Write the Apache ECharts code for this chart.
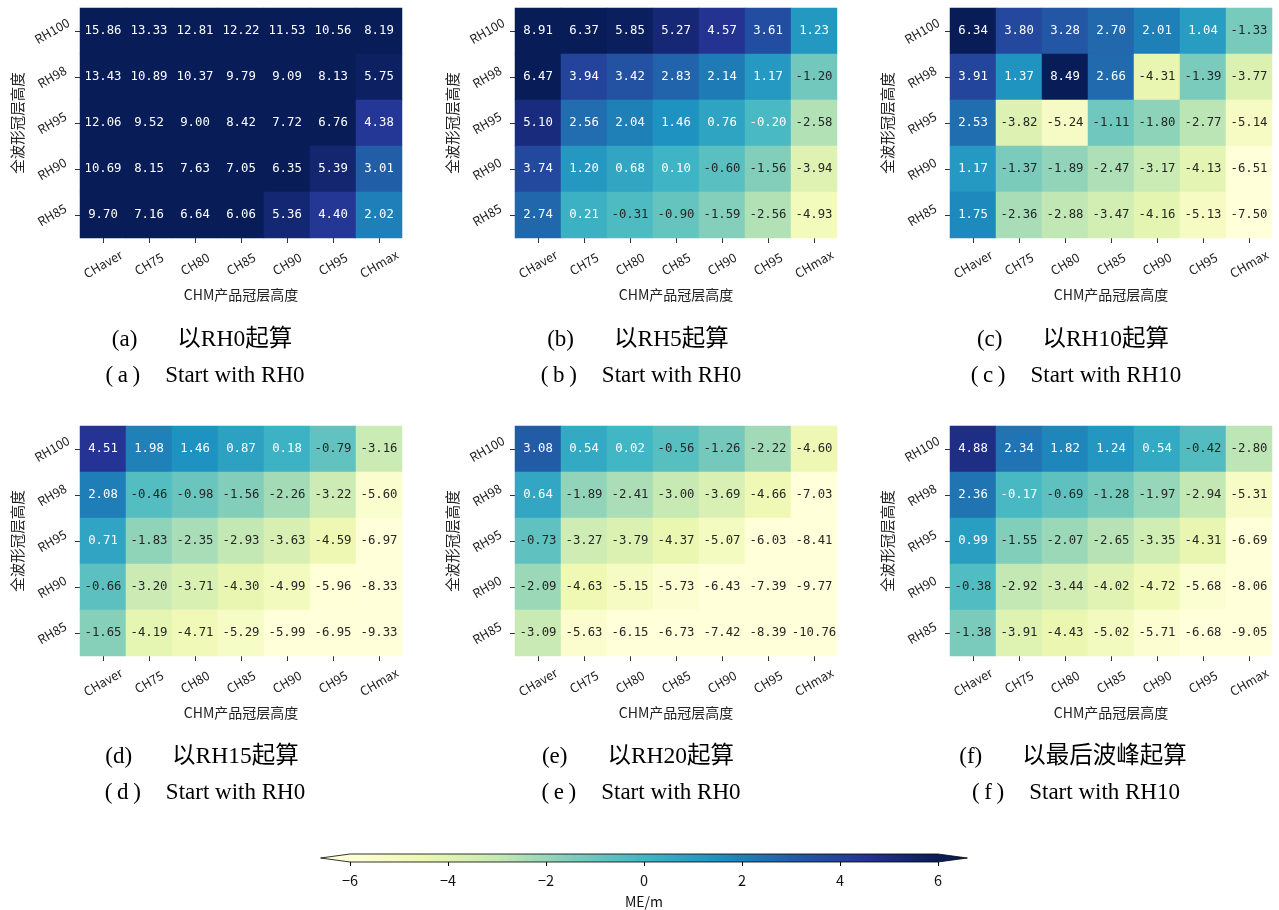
<!DOCTYPE html>
<html>
<head>
<meta charset="utf-8">
<script src="https://cdn.jsdelivr.net/npm/echarts@6/dist/echarts.min.js"></script>
<style>
  html, body { margin: 0; padding: 0; background: #fff; }
  #chart { width: 1279px; height: 910px; }
</style>
</head>
<body>
<div id="chart"></div>
<script>
// Canopy-height product levels (columns) and waveform RH levels (rows, top to bottom)
const chmLevels = ['CHaver', 'CH75', 'CH80', 'CH85', 'CH90', 'CH95', 'CHmax'];
const rhLevels = ['RH100', 'RH98', 'RH95', 'RH90', 'RH85'];

// Mean error (m) per start point; one row per RH level
const meStartRH0 = [
  [15.86, 13.33, 12.81, 12.22, 11.53, 10.56, 8.19],
  [13.43, 10.89, 10.37, 9.79, 9.09, 8.13, 5.75],
  [12.06, 9.52, 9.00, 8.42, 7.72, 6.76, 4.38],
  [10.69, 8.15, 7.63, 7.05, 6.35, 5.39, 3.01],
  [9.70, 7.16, 6.64, 6.06, 5.36, 4.40, 2.02]
];
const meStartRH5 = [
  [8.91, 6.37, 5.85, 5.27, 4.57, 3.61, 1.23],
  [6.47, 3.94, 3.42, 2.83, 2.14, 1.17, -1.20],
  [5.10, 2.56, 2.04, 1.46, 0.76, -0.20, -2.58],
  [3.74, 1.20, 0.68, 0.10, -0.60, -1.56, -3.94],
  [2.74, 0.21, -0.31, -0.90, -1.59, -2.56, -4.93]
];
const meStartRH10 = [
  [6.34, 3.80, 3.28, 2.70, 2.01, 1.04, -1.33],
  [3.91, 1.37, 8.49, 2.66, -4.31, -1.39, -3.77],
  [2.53, -3.82, -5.24, -1.11, -1.80, -2.77, -5.14],
  [1.17, -1.37, -1.89, -2.47, -3.17, -4.13, -6.51],
  [1.75, -2.36, -2.88, -3.47, -4.16, -5.13, -7.50]
];
const meStartRH15 = [
  [4.51, 1.98, 1.46, 0.87, 0.18, -0.79, -3.16],
  [2.08, -0.46, -0.98, -1.56, -2.26, -3.22, -5.60],
  [0.71, -1.83, -2.35, -2.93, -3.63, -4.59, -6.97],
  [-0.66, -3.20, -3.71, -4.30, -4.99, -5.96, -8.33],
  [-1.65, -4.19, -4.71, -5.29, -5.99, -6.95, -9.33]
];
const meStartRH20 = [
  [3.08, 0.54, 0.02, -0.56, -1.26, -2.22, -4.60],
  [0.64, -1.89, -2.41, -3.00, -3.69, -4.66, -7.03],
  [-0.73, -3.27, -3.79, -4.37, -5.07, -6.03, -8.41],
  [-2.09, -4.63, -5.15, -5.73, -6.43, -7.39, -9.77],
  [-3.09, -5.63, -6.15, -6.73, -7.42, -8.39, -10.76]
];
const meStartLastPeak = [
  [4.88, 2.34, 1.82, 1.24, 0.54, -0.42, -2.80],
  [2.36, -0.17, -0.69, -1.28, -1.97, -2.94, -5.31],
  [0.99, -1.55, -2.07, -2.65, -3.35, -4.31, -6.69],
  [-0.38, -2.92, -3.44, -4.02, -4.72, -5.68, -8.06],
  [-1.38, -3.91, -4.43, -5.02, -5.71, -6.68, -9.05]
];

const panelTags = ['a', 'b', 'c', 'd', 'e', 'f'];
const captionsCN = ['以RH0起算', '以RH5起算', '以RH10起算', '以RH15起算', '以RH20起算', '以最后波峰起算'];
const captionsEN = ['Start with RH0', 'Start with RH0', 'Start with RH10',
                    'Start with RH0', 'Start with RH0', 'Start with RH10'];

// Colour scale
const colorTicks = [-6, -4, -2, 0, 2, 4, 6];
const meMin = -6, meMax = 6;
const ylgnbu = ['#ffffd9', '#edf8b1', '#c7e9b4', '#7fcdbb', '#41b6c4',
                '#1d91c0', '#225ea8', '#253494', '#081d58'];

const panels = [meStartRH0, meStartRH5, meStartRH10, meStartRH15, meStartRH20, meStartLastPeak];

// ---- layout ----
const colLeft = [80, 515, 950];
const rowTop = [8, 426];
const cellW = 322, cellH = 230;
const capCenter = [205, 641, 1076];
const capY = [[340, 376], [757, 793]];

// Interpolated colour for a value, used to pick a readable annotation colour
function hexToRgb(h) { return [1, 3, 5].map(i => parseInt(h.substr(i, 2), 16)); }
function cmap(v) {
  let t = (v - meMin) / (meMax - meMin);
  t = Math.max(0, Math.min(1, t));
  const pos = t * (ylgnbu.length - 1);
  const i = Math.min(Math.floor(pos), ylgnbu.length - 2);
  const f = pos - i;
  const a = hexToRgb(ylgnbu[i]), b = hexToRgb(ylgnbu[i + 1]);
  return a.map((c, k) => c + (b[k] - c) * f);
}
function luminance(rgb) {
  const lin = rgb.map(c => { c /= 255; return c <= 0.03928 ? c / 12.92 : Math.pow((c + 0.055) / 1.055, 2.4); });
  return 0.2126 * lin[0] + 0.7152 * lin[1] + 0.0722 * lin[2];
}
function annotColor(v) { return luminance(cmap(v)) > 0.408 ? '#262626' : '#ffffff'; }

const monoFont = 'DejaVu Sans Mono';
const cjkFont = 'Noto Sans CJK SC';
const serifFont = 'Liberation Serif, Noto Sans CJK SC';

const grids = [], xAxes = [], yAxes = [], series = [], graphics = [];

panels.forEach((mat, p) => {
  const r = Math.floor(p / 3), c = p % 3;
  grids.push({ left: colLeft[c], top: rowTop[r], width: cellW, height: cellH });
  xAxes.push({
    type: 'category', gridIndex: p, data: chmLevels, position: 'bottom',
    axisLine: { show: false },
    axisTick: { show: true, alignWithLabel: true, length: 5, lineStyle: { color: '#333', width: 1 } },
    axisLabel: { rotate: 30, align: 'center', verticalAlign: 'middle', margin: 26,
                 fontFamily: cjkFont, fontSize: 12.5, color: '#222' },
    splitLine: { show: false },
    name: 'CHM产品冠层高度', nameLocation: 'middle', nameGap: 50,
    nameTextStyle: { fontFamily: cjkFont, fontSize: 14, color: '#222' }
  });
  yAxes.push({
    type: 'category', gridIndex: p, data: rhLevels, inverse: true,
    axisLine: { show: false },
    axisTick: { show: true, alignWithLabel: true, length: 5, lineStyle: { color: '#333', width: 1 } },
    axisLabel: { rotate: 30, align: 'center', verticalAlign: 'middle', margin: 28,
                 fontFamily: cjkFont, fontSize: 12.5, color: '#222' },
    splitLine: { show: false },
    name: '全波形冠层高度', nameLocation: 'middle', nameGap: 55, nameRotate: 90,
    nameTextStyle: { fontFamily: cjkFont, fontSize: 14.5, color: '#222' }
  });
  const data = [];
  mat.forEach((row, ri) => row.forEach((v, ci) => {
    data.push({ value: [ci, ri, v], label: { color: annotColor(v) } });
  }));
  series.push({
    type: 'heatmap', xAxisIndex: p, yAxisIndex: p, data: data,
    label: { show: true, fontFamily: monoFont, fontSize: 12.3,
             formatter: prm => prm.value[2].toFixed(2) },
    itemStyle: { borderWidth: 0 },
    emphasis: { disabled: true }
  });

  // two-line sub-figure caption
  const rich1 = {
    p: { fontFamily: serifFont, fontSize: 23, color: '#231f20', padding: [0, 40, 0, 0] },
    t: { fontFamily: serifFont, fontSize: 23.5, color: '#231f20' }
  };
  const rich2 = {
    p: { fontFamily: serifFont, fontSize: 23, color: '#231f20', padding: [0, 25, 0, 0] },
    t: { fontFamily: serifFont, fontSize: 23, color: '#231f20' }
  };
  graphics.push({ type: 'text', x: capCenter[c] - 3, y: capY[r][0], silent: true,
    style: { text: '{p|(' + panelTags[p] + ')}{t|' + captionsCN[p] + '}', rich: rich1,
             align: 'center', verticalAlign: 'middle' } });
  graphics.push({ type: 'text', x: capCenter[c], y: capY[r][1], silent: true,
    style: { text: '{p|(\u2009' + panelTags[p] + '\u2009)}{t|' + captionsEN[p] + '}', rich: rich2,
             align: 'center', verticalAlign: 'middle' } });
});

// Colour bar with extension triangles, drawn on its own value axis
const cbIndex = panels.length;
grids.push({ left: 350, top: 854, width: 588, height: 8 });
xAxes.push({
  type: 'value', gridIndex: cbIndex, min: meMin, max: meMax, interval: 2, position: 'bottom',
  axisLine: { show: false },
  axisTick: { show: true, length: 4, lineStyle: { color: '#000', width: 1 } },
  axisLabel: { margin: 11, fontFamily: cjkFont, fontSize: 14.5, color: '#111',
               formatter: v => colorTicks.includes(v) ? String(v).replace('-', '\u2212') : '' },
  splitLine: { show: false },
  name: 'ME/m', nameLocation: 'middle', nameGap: 33,
  nameTextStyle: { fontFamily: cjkFont, fontSize: 14, color: '#111' }
});
yAxes.push({ type: 'value', gridIndex: cbIndex, min: 0, max: 1, show: false });

const gradStops = ylgnbu.map((col, i) => ({ offset: i / (ylgnbu.length - 1), color: col }));
series.push({
  type: 'custom', xAxisIndex: cbIndex, yAxisIndex: cbIndex, silent: true,
  data: [[meMin, 0]],
  renderItem: (params, api) => {
    const a = api.coord([meMin, 0]), b = api.coord([meMax, 1]);
    const x0 = a[0], x1 = b[0], y0 = b[1], y1 = a[1], yc = (y0 + y1) / 2;
    const ext = 0.05 * (x1 - x0);
    return {
      type: 'group',
      children: [
        { type: 'rect', shape: { x: x0, y: y0, width: x1 - x0, height: y1 - y0 },
          style: { fill: new echarts.graphic.LinearGradient(0, 0, 1, 0, gradStops) } },
        { type: 'polygon', shape: { points: [[x0 + 0.5, y0], [x0 - ext, yc], [x0 + 0.5, y1]] },
          style: { fill: ylgnbu[0] } },
        { type: 'polygon', shape: { points: [[x1 - 0.5, y0], [x1 + ext, yc], [x1 - 0.5, y1]] },
          style: { fill: ylgnbu[ylgnbu.length - 1] } },
        { type: 'polygon',
          shape: { points: [[x0, y0], [x1, y0], [x1 + ext, yc], [x1, y1], [x0, y1], [x0 - ext, yc]] },
          style: { fill: 'none', stroke: '#000', lineWidth: 0.8 } }
      ]
    };
  }
});

const chart = echarts.init(document.getElementById('chart'), null, { renderer: 'canvas' });
chart.setOption({
  animation: false,
  backgroundColor: '#ffffff',
  grid: grids,
  xAxis: xAxes,
  yAxis: yAxes,
  visualMap: {
    type: 'continuous', show: false, min: meMin, max: meMax, dimension: 2,
    seriesIndex: [0, 1, 2, 3, 4, 5],
    inRange: { color: ylgnbu }
  },
  series: series,
  graphic: graphics
});
</script>
</body>
</html>
